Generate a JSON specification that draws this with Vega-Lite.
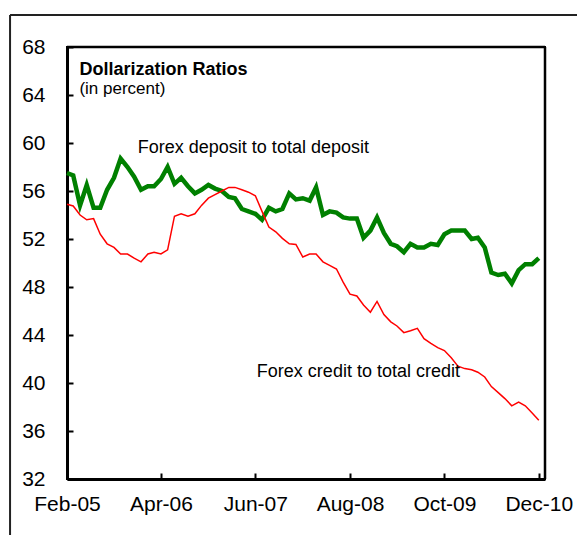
{
  "$schema": "https://vega.github.io/schema/vega-lite/v6.json",
  "width": 478,
  "height": 432,
  "autosize": "none",
  "padding": {"left": 67, "top": 47, "right": 32, "bottom": 56},
  "background": "white",
  "config": {
    "font": "Liberation Sans",
    "view": {"stroke": "#000000", "strokeWidth": 2},
    "axis": {
      "domainColor": "#000000",
      "domainWidth": 3,
      "tickColor": "#000000",
      "tickWidth": 2,
      "tickSize": -6,
      "labelColor": "#000000",
      "labelFont": "Liberation Sans",
      "labelFontSize": 21,
      "grid": false,
      "title": null
    }
  },
  "datasets": {
    "series": [
      {"date": "2005-02-01", "deposit": 57.5, "credit": 54.9},
      {"date": "2005-03-01", "deposit": 57.3, "credit": 54.75},
      {"date": "2005-04-01", "deposit": 54.8, "credit": 54.0},
      {"date": "2005-05-01", "deposit": 56.5, "credit": 53.6},
      {"date": "2005-06-01", "deposit": 54.6, "credit": 53.7},
      {"date": "2005-07-01", "deposit": 54.6, "credit": 52.4},
      {"date": "2005-08-01", "deposit": 56.1, "credit": 51.6},
      {"date": "2005-09-01", "deposit": 57.1, "credit": 51.3},
      {"date": "2005-10-01", "deposit": 58.7, "credit": 50.75},
      {"date": "2005-11-01", "deposit": 58.0, "credit": 50.75},
      {"date": "2005-12-01", "deposit": 57.2, "credit": 50.4},
      {"date": "2006-01-01", "deposit": 56.1, "credit": 50.1},
      {"date": "2006-02-01", "deposit": 56.4, "credit": 50.75},
      {"date": "2006-03-01", "deposit": 56.4, "credit": 50.9},
      {"date": "2006-04-01", "deposit": 57.0, "credit": 50.75},
      {"date": "2006-05-01", "deposit": 58.0, "credit": 51.1},
      {"date": "2006-06-01", "deposit": 56.6, "credit": 53.9},
      {"date": "2006-07-01", "deposit": 57.1, "credit": 54.1},
      {"date": "2006-08-01", "deposit": 56.4, "credit": 53.9},
      {"date": "2006-09-01", "deposit": 55.8, "credit": 54.1},
      {"date": "2006-10-01", "deposit": 56.1, "credit": 54.8},
      {"date": "2006-11-01", "deposit": 56.5, "credit": 55.4},
      {"date": "2006-12-01", "deposit": 56.2, "credit": 55.7},
      {"date": "2007-01-01", "deposit": 56.0, "credit": 56.0},
      {"date": "2007-02-01", "deposit": 55.5, "credit": 56.3},
      {"date": "2007-03-01", "deposit": 55.4, "credit": 56.3},
      {"date": "2007-04-01", "deposit": 54.5, "credit": 56.1},
      {"date": "2007-05-01", "deposit": 54.3, "credit": 55.9},
      {"date": "2007-06-01", "deposit": 54.1, "credit": 55.6},
      {"date": "2007-07-01", "deposit": 53.6, "credit": 54.3},
      {"date": "2007-08-01", "deposit": 54.6, "credit": 53.0},
      {"date": "2007-09-01", "deposit": 54.3, "credit": 52.6},
      {"date": "2007-10-01", "deposit": 54.5, "credit": 52.05},
      {"date": "2007-11-01", "deposit": 55.8, "credit": 51.6},
      {"date": "2007-12-01", "deposit": 55.3, "credit": 51.55},
      {"date": "2008-01-01", "deposit": 55.4, "credit": 50.5},
      {"date": "2008-02-01", "deposit": 55.2, "credit": 50.75},
      {"date": "2008-03-01", "deposit": 56.3, "credit": 50.75},
      {"date": "2008-04-01", "deposit": 54.0, "credit": 50.1},
      {"date": "2008-05-01", "deposit": 54.3, "credit": 49.8},
      {"date": "2008-06-01", "deposit": 54.2, "credit": 49.5},
      {"date": "2008-07-01", "deposit": 53.8, "credit": 48.4},
      {"date": "2008-08-01", "deposit": 53.7, "credit": 47.4},
      {"date": "2008-09-01", "deposit": 53.7, "credit": 47.25},
      {"date": "2008-10-01", "deposit": 52.1, "credit": 46.5},
      {"date": "2008-11-01", "deposit": 52.7, "credit": 45.9},
      {"date": "2008-12-01", "deposit": 53.8, "credit": 46.8},
      {"date": "2009-01-01", "deposit": 52.5, "credit": 45.7},
      {"date": "2009-02-01", "deposit": 51.6, "credit": 45.1},
      {"date": "2009-03-01", "deposit": 51.4, "credit": 44.75},
      {"date": "2009-04-01", "deposit": 50.9, "credit": 44.2},
      {"date": "2009-05-01", "deposit": 51.6, "credit": 44.35},
      {"date": "2009-06-01", "deposit": 51.3, "credit": 44.55},
      {"date": "2009-07-01", "deposit": 51.3, "credit": 43.7},
      {"date": "2009-08-01", "deposit": 51.6, "credit": 43.3},
      {"date": "2009-09-01", "deposit": 51.5, "credit": 42.95},
      {"date": "2009-10-01", "deposit": 52.4, "credit": 42.7},
      {"date": "2009-11-01", "deposit": 52.7, "credit": 42.1},
      {"date": "2009-12-01", "deposit": 52.7, "credit": 41.4},
      {"date": "2010-01-01", "deposit": 52.7, "credit": 41.2},
      {"date": "2010-02-01", "deposit": 52.0, "credit": 41.1},
      {"date": "2010-03-01", "deposit": 52.1, "credit": 40.9},
      {"date": "2010-04-01", "deposit": 51.3, "credit": 40.5},
      {"date": "2010-05-01", "deposit": 49.2, "credit": 39.7},
      {"date": "2010-06-01", "deposit": 49.0, "credit": 39.2},
      {"date": "2010-07-01", "deposit": 49.1, "credit": 38.7},
      {"date": "2010-08-01", "deposit": 48.3, "credit": 38.1},
      {"date": "2010-09-01", "deposit": 49.4, "credit": 38.4},
      {"date": "2010-10-01", "deposit": 49.9, "credit": 38.1},
      {"date": "2010-11-01", "deposit": 49.9, "credit": 37.5},
      {"date": "2010-12-01", "deposit": 50.4, "credit": 36.9}
    ],
    "title": [{"note": "Dollarization Ratios"}],
    "subtitle": [{"note": "(in percent)"}],
    "depositLabel": [{"note": "Forex deposit to total deposit"}],
    "creditLabel": [{"note": "Forex credit to total credit"}],
    "frame": [{"part": "frame"}]
  },
  "layer": [
    {
      "data": {"name": "series"},
      "mark": {"type": "line", "color": "#008000", "strokeWidth": 4.5},
      "encoding": {
        "x": {
          "field": "date",
          "type": "temporal",
          "scale": {
            "type": "utc",
            "nice": false,
            "domain": [1107216000000, 1293580800000]
          },
          "axis": {
            "values": [
              {"year": 2005, "month": 2, "date": 1, "utc": true},
              {"year": 2006, "month": 4, "date": 1, "utc": true},
              {"year": 2007, "month": 6, "date": 1, "utc": true},
              {"year": 2008, "month": 8, "date": 1, "utc": true},
              {"year": 2009, "month": 10, "date": 1, "utc": true},
              {"year": 2010, "month": 12, "date": 1, "utc": true}
            ],
            "format": "%b-%y",
            "labelPadding": 20,
            "labelFlush": false,
            "labelOverlap": false
          }
        },
        "y": {
          "field": "deposit",
          "type": "quantitative",
          "scale": {"domain": [32, 68], "nice": false, "zero": false},
          "axis": {
            "values": [32, 36, 40, 44, 48, 52, 56, 60, 64, 68],
            "labelPadding": 28
          }
        }
      }
    },
    {
      "data": {"name": "series"},
      "mark": {"type": "line", "color": "#FF0000", "strokeWidth": 1.5},
      "encoding": {
        "x": {"field": "date", "type": "temporal"},
        "y": {"field": "credit", "type": "quantitative"}
      }
    },
    {
      "data": {"name": "title"},
      "mark": {"type": "text", "fontWeight": "bold", "fontSize": 18, "align": "left", "baseline": "alphabetic", "color": "#000000"},
      "encoding": {
        "x": {"datum": {"year": 2005, "month": 3, "date": 29, "utc": true}, "type": "temporal"},
        "y": {"datum": 65.67},
        "text": {"field": "note"}
      }
    },
    {
      "data": {"name": "subtitle"},
      "mark": {"type": "text", "fontSize": 17, "align": "left", "baseline": "alphabetic", "color": "#000000"},
      "encoding": {
        "x": {"datum": {"year": 2005, "month": 3, "date": 29, "utc": true}, "type": "temporal"},
        "y": {"datum": 64.1},
        "text": {"field": "note"}
      }
    },
    {
      "data": {"name": "depositLabel"},
      "mark": {"type": "text", "fontSize": 18, "align": "center", "baseline": "alphabetic", "color": "#000000"},
      "encoding": {
        "x": {"datum": {"year": 2007, "month": 5, "date": 23, "utc": true}, "type": "temporal"},
        "y": {"datum": 59.17},
        "text": {"field": "note"}
      }
    },
    {
      "data": {"name": "creditLabel"},
      "mark": {"type": "text", "fontSize": 18, "align": "center", "baseline": "alphabetic", "color": "#000000"},
      "encoding": {
        "x": {"datum": {"year": 2008, "month": 9, "date": 8, "utc": true}, "type": "temporal"},
        "y": {"datum": 40.5},
        "text": {"field": "note"}
      }
    },
    {
      "data": {"name": "frame"},
      "mark": {"type": "rule", "color": "#000000", "strokeWidth": 2.5, "clip": false},
      "encoding": {
        "x": {"datum": {"year": 2005, "month": 2, "date": 1, "utc": true}, "type": "temporal"},
        "x2": {"datum": {"year": 2010, "month": 12, "date": 29, "utc": true}},
        "y": {"datum": 68}
      }
    },
    {
      "data": {"name": "frame"},
      "mark": {"type": "rule", "color": "#000000", "strokeWidth": 2.5, "clip": false},
      "encoding": {
        "x": {"datum": {"year": 2010, "month": 12, "date": 29, "utc": true}, "type": "temporal"},
        "y": {"datum": 32},
        "y2": {"datum": 68}
      }
    },
    {
      "data": {"name": "frame"},
      "mark": {"type": "rule", "color": "#222222", "strokeWidth": 2, "clip": false},
      "encoding": {
        "x": {"datum": {"year": 2004, "month": 5, "date": 20, "utc": true}, "type": "temporal"},
        "y": {"datum": 70.67},
        "y2": {"datum": 26.5}
      }
    },
    {
      "data": {"name": "frame"},
      "mark": {"type": "rule", "color": "#222222", "strokeWidth": 2, "clip": false},
      "encoding": {
        "x": {"datum": {"year": 2004, "month": 5, "date": 20, "utc": true}, "type": "temporal"},
        "x2": {"datum": {"year": 2011, "month": 7, "date": 1, "utc": true}},
        "y": {"datum": 70.67}
      }
    }
  ]
}
